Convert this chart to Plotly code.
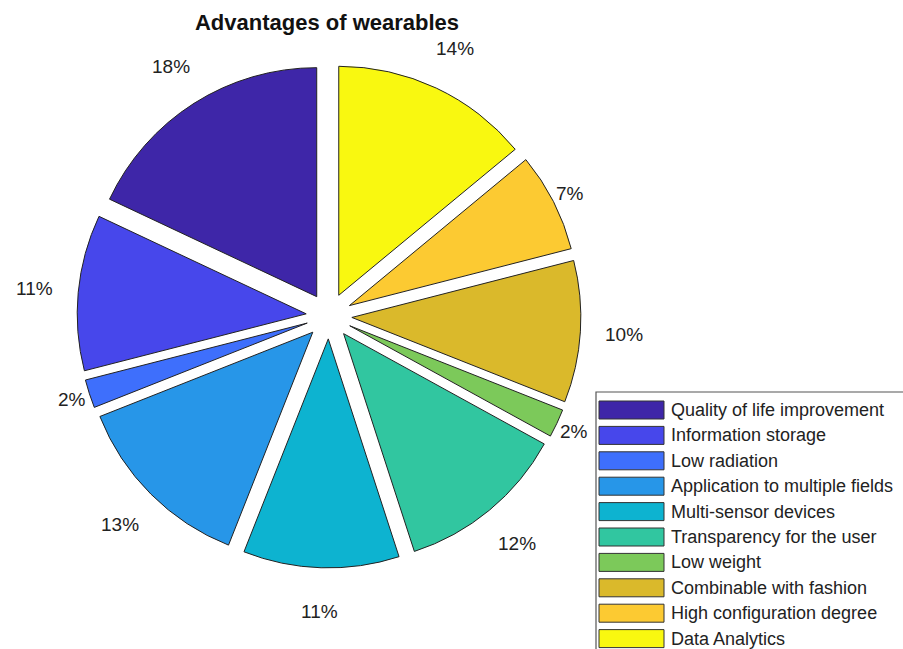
import math
import plotly.graph_objects as go

categories = ["Quality of life improvement", "Information storage", "Low radiation",
              "Application to multiple fields", "Multi-sensor devices",
              "Transparency for the user", "Low weight", "Combinable with fashion",
              "High configuration degree", "Data Analytics"]
values = [18, 11, 2, 13, 11, 12, 2, 10, 7, 14]
colors = ["#3e26a8", "#4747eb", "#3e6ffc", "#2796e8", "#0db3d0",
          "#31c6a0", "#7cc95a", "#dab92b", "#fcca32", "#f9f810"]

W, H = 903, 649
FONT = "Liberation Sans, Arial"

# pie geometry (pixels)
cx, cy = 329, 316          # pie centre
pull = 0.10
R = 229                    # pie radius
half = R * (1 + pull)
dom_x = [(cx - half) / W, (cx + half) / W]
dom_y = [1 - (cy + half) / H, 1 - (cy - half) / H]

total = sum(values)
# first slice should start at 12 o'clock and run counter-clockwise
first_angle = values[0] / total * 360

fig = go.Figure(go.Pie(
    labels=categories, values=values, sort=False, direction="counterclockwise",
    rotation=-first_angle, pull=[pull] * len(values),
    marker=dict(colors=colors, line=dict(color="#222222", width=1)),
    textinfo="none", showlegend=False, hoverinfo="label+value",
    domain=dict(x=dom_x, y=dom_y),
))

annotations = []
# percentage labels placed outside each slice along its bisector
# (labels of the narrow slices sit a little closer to the pie)
cum = 0
for v in values:
    mid = math.radians(90 + (cum + v / 2) / total * 360)
    cum += v
    label_r = (1.29 if v >= 10 else 1.18) * R
    lx = cx + label_r * math.cos(mid)
    ly = cy - label_r * math.sin(mid)
    annotations.append(dict(xref="paper", yref="paper", x=lx / W, y=1 - ly / H,
                            xanchor="center", yanchor="middle", showarrow=False,
                            text=f"{v}%", font=dict(family=FONT, size=19, color="#222222")))

# legend box drawn from the category / colour lists
x_box, y_box = 596, 392
row0, row_step = 410, 25.4
shapes = [dict(type="rect", xref="paper", yref="paper",
               x0=x_box / W, x1=915 / W, y0=1 - y_box / H, y1=1 - 660 / H,
               line=dict(color="#555555", width=1.2), fillcolor="white", layer="below")]
for i, (cat, col) in enumerate(zip(categories, colors)):
    yc = row0 + i * row_step
    shapes.append(dict(type="rect", xref="paper", yref="paper",
                       x0=599 / W, x1=664 / W, y0=1 - (yc - 9) / H, y1=1 - (yc + 9) / H,
                       fillcolor=col, line=dict(color="#333333", width=1)))
    annotations.append(dict(xref="paper", yref="paper", x=669 / W, y=1 - yc / H,
                            xanchor="left", yanchor="middle", showarrow=False, text=cat,
                            font=dict(family=FONT, size=18, color="#222222")))

fig.update_layout(
    width=W, height=H, margin=dict(l=0, r=0, t=0, b=0),
    paper_bgcolor="white", plot_bgcolor="white",
    title=dict(text="<b>Advantages of wearables</b>", x=327 / W, xanchor="center",
               y=1 - 22 / H, yanchor="middle",
               font=dict(family=FONT, size=22, color="#111111")),
    shapes=shapes, annotations=annotations,
)

fig.write_html("out.html", config={"displayModeBar": False},
               post_script="document.body.style.margin='0';")
